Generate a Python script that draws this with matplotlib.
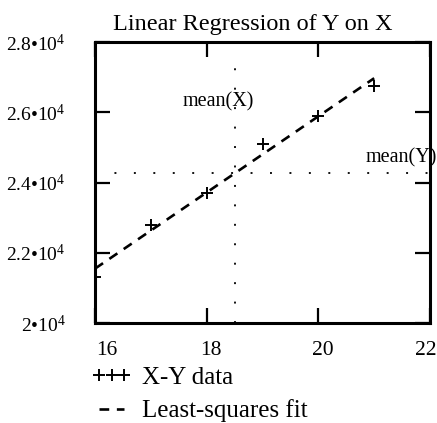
import numpy as np
import matplotlib
matplotlib.use("Agg")
import matplotlib.pyplot as plt
import matplotlib.transforms as mtransforms
from matplotlib.ticker import FuncFormatter

plt.rcParams['font.family'] = ['Liberation Serif', 'DejaVu Serif']
plt.rcParams['mathtext.fontset'] = 'custom'
plt.rcParams['mathtext.rm'] = 'Liberation Serif'
plt.rcParams['mathtext.it'] = 'Liberation Serif:italic'
plt.rcParams['lines.scale_dashes'] = False

# data
x_data = [16, 17, 18, 19, 20, 21]
y_data = [21300, 22800, 23700, 25100, 25900, 26750]
x_ticks = [16, 18, 20, 22]
y_ticks = [20000, 22000, 24000, 26000, 28000]

x = np.array(x_data, dtype=float)
y = np.array(y_data, dtype=float)
mx, my = x.mean(), y.mean()
slope, icpt = np.polyfit(x, y, 1)
fit_x = np.array([x.min(), x.max()])
fit_y = slope * fit_x + icpt

fig = plt.figure(figsize=(4.37, 4.23), dpi=100)
ax = fig.add_axes([0.2174, 0.2364, 0.7666, 0.6643])

ax.plot(x, y, linestyle='none', marker='+', color='black', markersize=8,
        markeredgewidth=1.4, label='X-Y data')
ax.plot(fit_x, fit_y, color='black', linewidth=1.9, linestyle=(0, (7, 5.5)),
        label='Least-squares fit')

# mean lines
dots = (0, (1.4, 12.6))
ax.plot([mx, mx], [20000, 27550], color='black', linewidth=1.3, linestyle=dots)
ax.plot([16, 22], [my, my], color='black', linewidth=1.3, linestyle=dots)
ax.text(mx + 0.35, 26300, 'mean(X)', ha='right', va='center', fontsize=14.5)
ax.text(22.12, my + 430, 'mean(Y)', ha='right', va='center', fontsize=14.5,
        clip_on=False)

ax.set_xlim(16, 22)
ax.set_ylim(20000, 28000)
ax.set_xticks(x_ticks)
ax.set_yticks(y_ticks)
ax.yaxis.set_major_formatter(FuncFormatter(lambda v, p: '%g\u2022$10^{4}$' % (v / 1e4)))
ax.tick_params(direction='in', length=11, width=1.6, top=True, right=True)
ax.tick_params(axis='x', pad=13, labelsize=15.5)
ax.tick_params(axis='y', pad=21, labelsize=14)
for s in ax.spines.values():
    s.set_linewidth(2.2)

# nudge the x tick labels like the original layout
for lab, dx in zip(ax.get_xticklabels(), [12, 4, 4, -4]):
    lab.set_transform(lab.get_transform() +
                      mtransforms.ScaledTranslation(dx / 100, 0, fig.dpi_scale_trans))

ax.set_title('Linear Regression of Y on X', fontsize=17.5, pad=9, x=0.47)

ax.legend(loc='upper left', bbox_to_anchor=(-0.04, -0.118), frameon=False,
          numpoints=3, fontsize=18, handlelength=1.6, handletextpad=0.4,
          labelspacing=0.43, borderaxespad=0)

fig.savefig('out.png', dpi=100)
